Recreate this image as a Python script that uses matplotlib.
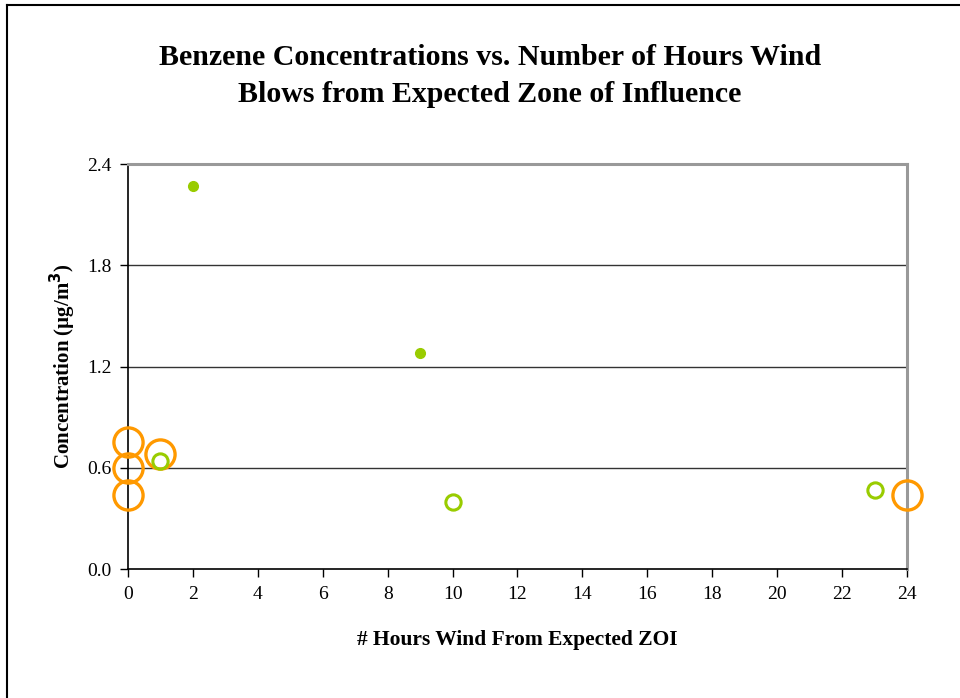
import matplotlib.pyplot as plt
from matplotlib.lines import Line2D

plt.rcParams['font.family'] = ['Liberation Serif', 'DejaVu Serif']

# ZOI circles (orange, large open)
zoi_hours = [0, 0, 0, 1, 24]
zoi_conc = [0.75, 0.60, 0.44, 0.68, 0.44]

# open green circles
open_hours = [1, 10, 23]
open_conc = [0.64, 0.40, 0.47]

# filled green dots
fill_hours = [2, 9]
fill_conc = [2.27, 1.28]

xticks = list(range(0, 25, 2))
yticks = [0.0, 0.6, 1.2, 1.8, 2.4]

fig = plt.figure(figsize=(9.6, 6.98), dpi=100)
ax = fig.add_axes([0.1333, 0.1848, 0.8115, 0.5802])

for y in yticks[1:-1]:
    ax.axhline(y, color='#333333', lw=1.0, zorder=1)

ax.plot(zoi_hours, zoi_conc, 'o', ms=21, mfc='none', mec='#ff9900',
        mew=2.4, clip_on=False, zorder=4)
ax.plot(open_hours, open_conc, 'o', ms=11, mfc='none', mec='#99cc00',
        mew=2.2, clip_on=False, zorder=4)
ax.plot(fill_hours, fill_conc, 'o', ms=7, mfc='#99cc00', mec='#99cc00',
        clip_on=False, zorder=4)

ax.set_xlim(0, 24)
ax.set_ylim(0, 2.4)
ax.set_xticks(xticks)
ax.set_yticks(yticks)
ax.set_yticklabels([f'{v:.1f}' for v in yticks])
ax.tick_params(direction='out', length=6, width=1, labelsize=14, pad=6)

for s in ['left', 'bottom']:
    ax.spines[s].set_color('black')
    ax.spines[s].set_linewidth(1.2)
for s in ['top', 'right']:
    ax.spines[s].set_color('#999999')
    ax.spines[s].set_linewidth(2.2)

ax.set_xlabel('# Hours Wind From Expected ZOI', fontsize=15.5, fontweight='bold', labelpad=20)
ax.set_ylabel('Concentration (µg/m$^\\mathbf{3}$)', fontsize=15, fontweight='bold', labelpad=6)

fig.text(0.51, 0.891, 'Benzene Concentrations vs. Number of Hours Wind\nBlows from Expected Zone of Influence',
         ha='center', va='center', fontsize=21.5, fontweight='bold', linespacing=1.5)

# outer frame (left and top edges)
fig.add_artist(Line2D([7 / 960, 7 / 960], [0, 1 - 5 / 698], color='black', lw=1.5,
                      transform=fig.transFigure))
fig.add_artist(Line2D([7 / 960, 1], [1 - 5 / 698, 1 - 5 / 698], color='black', lw=1.5,
                      transform=fig.transFigure))

fig.savefig('out.png', dpi=100)
